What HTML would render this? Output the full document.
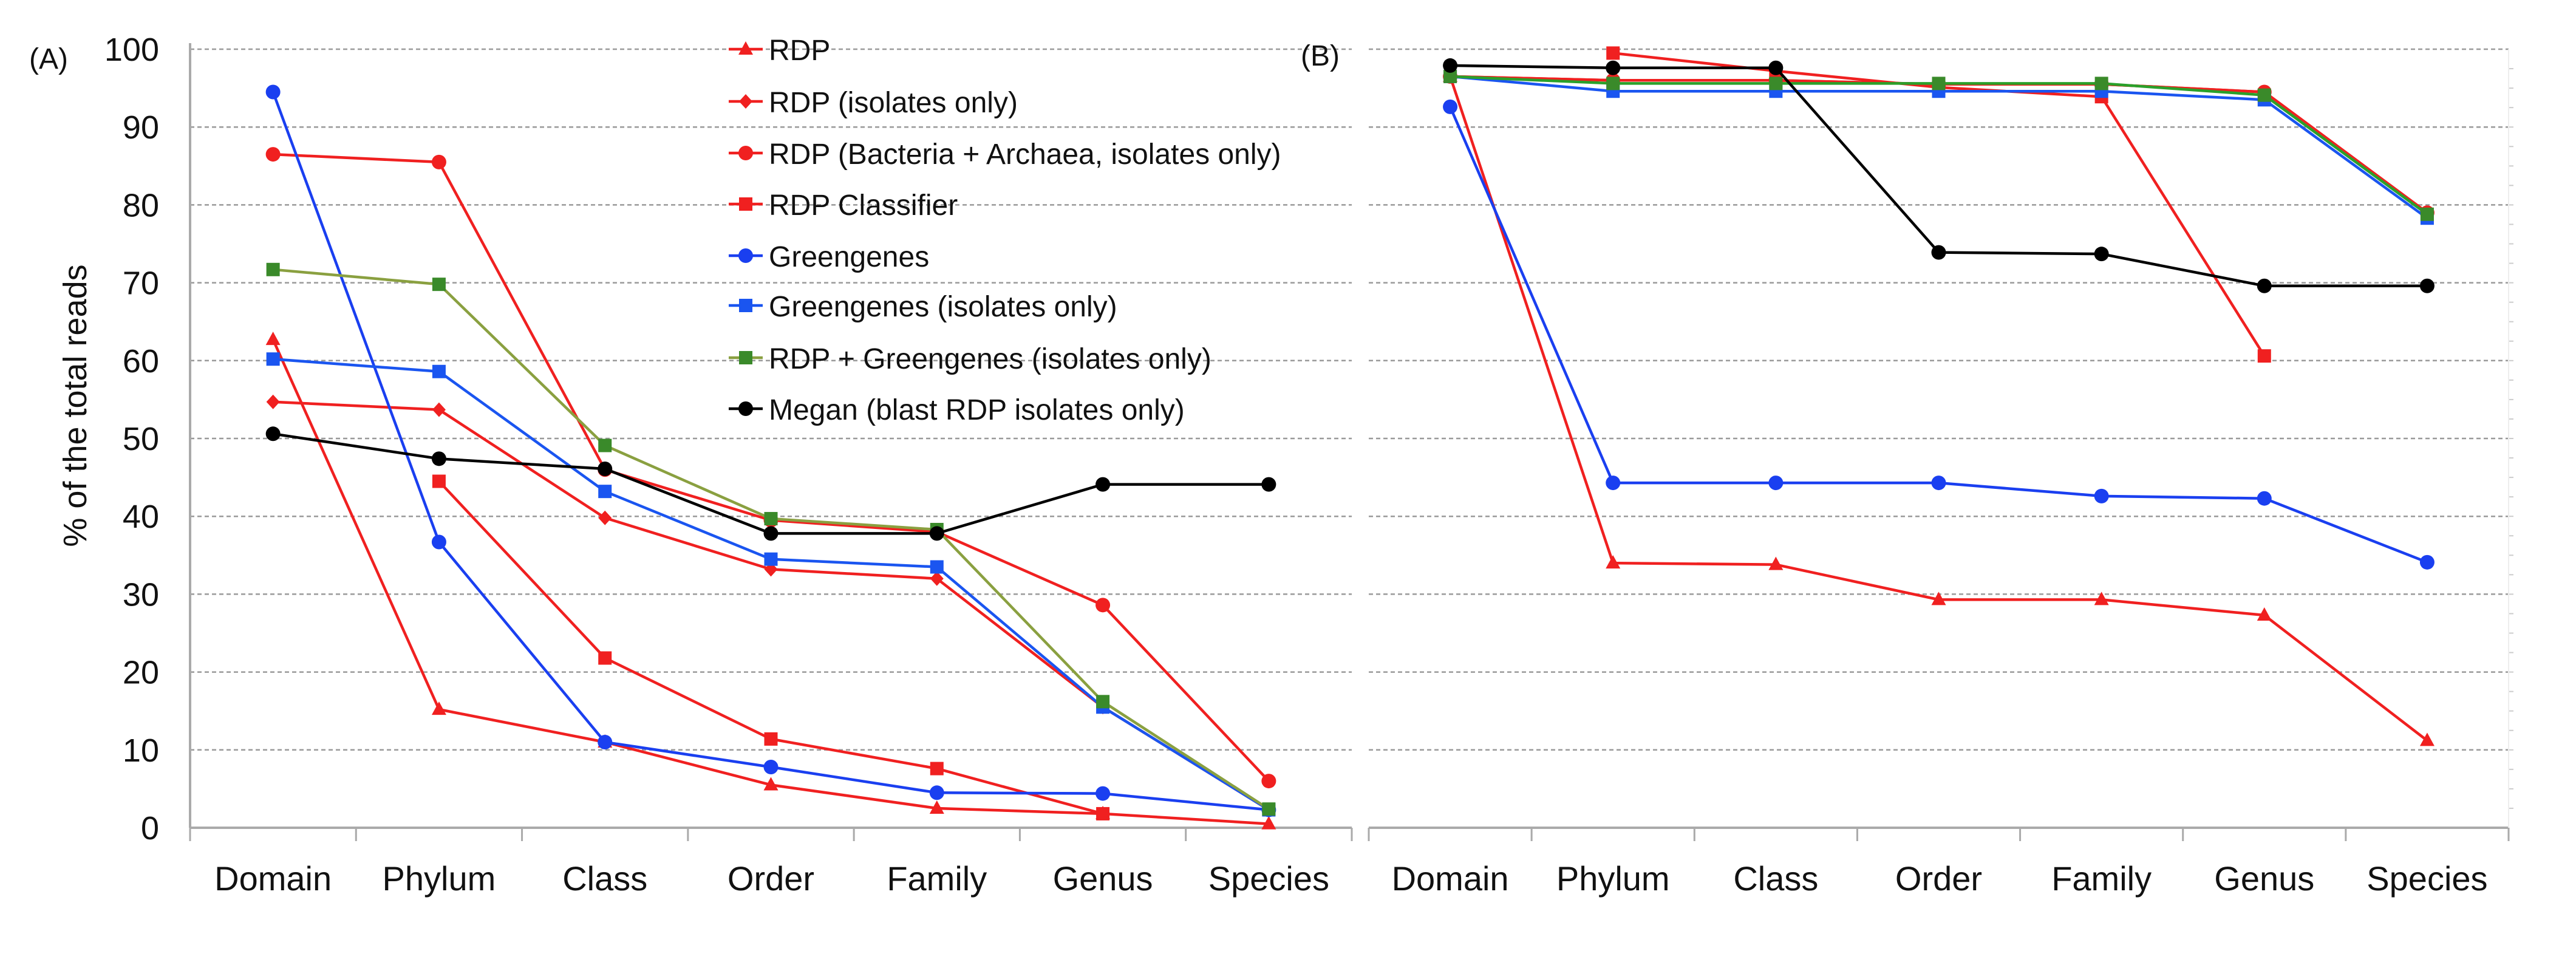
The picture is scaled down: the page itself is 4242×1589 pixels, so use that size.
<!DOCTYPE html>
<html><head><meta charset="utf-8"><style>
html,body{margin:0;padding:0;background:#fff;}
svg{display:block;}
text{font-family:"Liberation Sans",sans-serif;fill:#111;}
</style></head><body>
<svg id="chart" width="4242" height="1589" xmlns="http://www.w3.org/2000/svg"></svg>
<script>
const categories = ["Domain","Phylum","Class","Order","Family","Genus","Species"];
const yTicks = [0,10,20,30,40,50,60,70,80,90,100];
const seriesNames = ["RDP","RDP (isolates only)","RDP (Bacteria + Archaea, isolates only)","RDP Classifier","Greengenes","Greengenes (isolates only)","RDP + Greengenes (isolates only)","Megan (blast RDP isolates only)"];
// Panel A values
const aRdp = [62.7,15.2,11,5.5,2.5,1.8,0.5];
const aRdpIso = [54.7,53.7,39.8,33.2,32,15.5,2.3];
const aRdpBA = [86.5,85.5,46,39.5,38,28.6,6];
const aRdpClass = [null,44.5,21.8,11.4,7.6,1.8,null];
const aGg = [94.5,36.7,11,7.8,4.5,4.4,2.3];
const aGgIso = [60.2,58.6,43.2,34.5,33.5,15.5,2.3];
const aRdpGg = [71.7,69.8,49.1,39.7,38.3,16.2,2.4];
const aMegan = [50.6,47.4,46.1,37.8,37.8,44.1,44.1];
// Panel B values
const bRdp = [96.5,34.0,33.8,29.3,29.3,27.3,11.2];
const bRdpIso = [96.5,96,96,95.5,95.5,94.5,79];
const bRdpBA = [96.5,96,96,95.5,95.5,94.5,79];
const bRdpClass = [null,99.5,97.2,95.1,93.9,60.6,null];
const bGg = [92.6,44.3,44.3,44.3,42.6,42.3,34.1];
const bGgIso = [96.5,94.6,94.6,94.6,94.6,93.5,78.3];
const bRdpGg = [96.5,95.6,95.6,95.6,95.6,94.1,78.8];
const bMegan = [97.9,97.6,97.6,73.9,73.7,69.6,69.6];

const NS="http://www.w3.org/2000/svg";
const svg=document.getElementById('chart');
function el(tag,attrs,parent){const e=document.createElementNS(NS,tag);for(const k in attrs)e.setAttribute(k,attrs[k]);(parent||svg).appendChild(e);return e;}
const y0=1363, y100=81;
function yScale(v){return y0-(v/100)*(y0-y100);}

const styles=[
 {color:"#f02020",line:"#f02020",marker:"tri"},
 {color:"#f02020",line:"#f02020",marker:"diamond"},
 {color:"#f02020",line:"#f02020",marker:"circle"},
 {color:"#f02020",line:"#f02020",marker:"square"},
 {color:"#1a3ff0",line:"#1a3ff0",marker:"circle"},
 {color:"#1a55f0",line:"#1a55f0",marker:"square"},
 {color:"#3a8a2a",line:"#8aa040",marker:"square"},
 {color:"#000000",line:"#000000",marker:"circle"}
];

function marker(g,type,x,y,color){
  let m;
  if(type==="circle") m=el('circle',{cx:x,cy:y,r:12,fill:color},g);
  else if(type==="square") m=el('rect',{x:x-11,y:y-11,width:22,height:22,fill:color},g);
  else if(type==="diamond") m=el('polygon',{points:`${x},${y-12} ${x+11},${y} ${x},${y+12} ${x-11},${y}`,fill:color},g);
  else m=el('polygon',{points:`${x},${y-13} ${x+12},${y+9} ${x-12},${y+9}`,fill:color},g);
  return m;
}

function panel(name,left,right,seriesList,lineOverride){
  const g=el('g',{});
  
  
  const cw=(right-left)/categories.length;
  const xScale=i=>left+cw*(i+0.5);
  yTicks.forEach(t=>{
    if(t===0) return;
    const gl=el('line',{x1:left,x2:right,y1:yScale(t),y2:yScale(t),stroke:"#9a9a9a","stroke-width":2.5,"stroke-dasharray":"7,5"},g);
    
    
  });
  const ax=el('line',{x1:left,x2:right,y1:y0,y2:y0,stroke:"#aaa","stroke-width":4},g);
  
  
  for(let i=0;i<=categories.length;i++){
    el('line',{x1:left+cw*i,x2:left+cw*i,y1:y0,y2:y0+22,stroke:"#aaa","stroke-width":3},g);
  }
  categories.forEach((c,i)=>{
    const t=el('text',{x:xScale(i),y:1466,"font-size":56,"text-anchor":"middle"},g);
    t.textContent=c;
    
    
  });
  seriesList.forEach((vals,si)=>{
    const st=styles[si];
    const sg=el('g',{},g);
    
    
    const lc=(lineOverride&&lineOverride[si])||st.line;
    let seg=[];
    const segs=[];
    vals.forEach((v,i)=>{ if(v===null){ if(seg.length) segs.push(seg); seg=[]; } else seg.push([xScale(i),yScale(v)]); });
    if(seg.length) segs.push(seg);
    segs.forEach(s=>{ el('polyline',{points:s.map(p=>p.join(',')).join(' '),fill:"none",stroke:lc,"stroke-width":4.5,"stroke-linejoin":"round"},sg); });
    vals.forEach((v,i)=>{ if(v!==null){ const m=marker(sg,st.marker,xScale(i),yScale(v),st.color);   } });
  });
  return g;
}

// Panel A
const gA=panel('panel-a',313,2226,[aRdp,aRdpIso,aRdpBA,aRdpClass,aGg,aGgIso,aRdpGg,aMegan],null);
el('line',{x1:313,x2:313,y1:y100-10,y2:y0,stroke:"#aaa","stroke-width":4},gA);
yTicks.forEach(t=>{
  const tl=el('text',{x:262,y:yScale(t)+19,"font-size":54,"text-anchor":"end"},gA);
  tl.textContent=t;
  
  
});
const yt=el('text',{x:0,y:0,"font-size":54,"text-anchor":"middle",transform:"translate(142,668) rotate(-90)","font-family":"DejaVu Sans, sans-serif"},gA);
yt.textContent="% of the total reads";


const la=el('text',{x:48,y:113,"font-size":48},gA);
la.textContent="(A)";



// Panel B
const gB=panel('panel-b',2254,4131,[bRdp,bRdpIso,bRdpBA,bRdpClass,bGg,bGgIso,bRdpGg,bMegan],{6:"#2aa02a"});
for(let v=2.5;v<100;v+=2.5){ el('line',{x1:4131,x2:4139,y1:yScale(v),y2:yScale(v),stroke:"#ccc","stroke-width":2},gB); }
el('line',{x1:4131,x2:4131,y1:y100,y2:y0,stroke:"#eee","stroke-width":2},gB);
const lb=el('text',{x:2142,y:108,"font-size":48},gB);
lb.textContent="(B)";



// Legend
const lg=el('g',{});


const legY=[81,167,252,336,421,503,589,673];
seriesNames.forEach((n,i)=>{
  const eg=el('g',{},lg);
  
  
  const st=styles[i];
  el('line',{x1:1200,x2:1256,y1:legY[i],y2:legY[i],stroke:st.line,"stroke-width":4.5},eg);
  marker(eg,st.marker,1228,legY[i],st.color);
  const t=el('text',{x:1266,y:legY[i]+18,"font-size":48},eg);
  t.textContent=n;
});
</script>
</body></html>
